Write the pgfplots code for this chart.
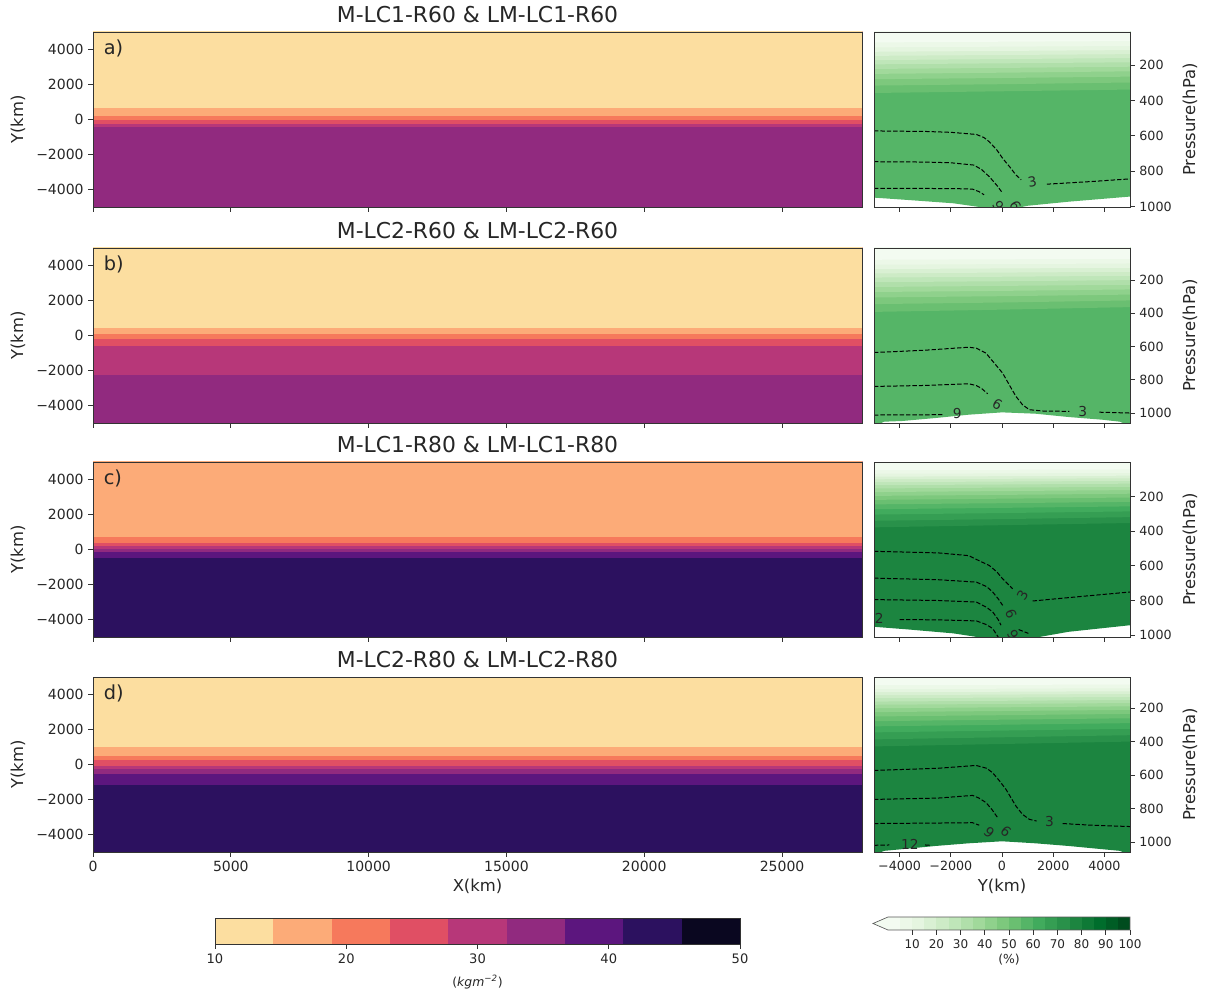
\documentclass[border=0pt]{standalone}
\usepackage{fontspec}
\setmainfont{DejaVu Sans}
\usepackage{pgfplots}
\pgfplotsset{compat=1.18}
\definecolor{m1}{RGB}{252,222,160}
\definecolor{m2}{RGB}{252,171,120}
\definecolor{m3}{RGB}{246,121,92}
\definecolor{m4}{RGB}{224,79,100}
\definecolor{m5}{RGB}{183,55,121}
\definecolor{m6}{RGB}{145,42,127}
\definecolor{m7}{RGB}{92,22,126}
\definecolor{m8}{RGB}{44,17,95}
\definecolor{m9}{RGB}{10,7,32}
\definecolor{g0}{RGB}{243,251,241}
\definecolor{g1}{RGB}{236,248,232}
\definecolor{g2}{RGB}{229,245,224}
\definecolor{g3}{RGB}{217,240,211}
\definecolor{g4}{RGB}{205,235,198}
\definecolor{g5}{RGB}{191,230,185}
\definecolor{g6}{RGB}{176,223,170}
\definecolor{g7}{RGB}{161,217,155}
\definecolor{g8}{RGB}{143,209,140}
\definecolor{g9}{RGB}{125,200,125}
\definecolor{g10}{RGB}{106,191,113}
\definecolor{g11}{RGB}{85,181,103}
\definecolor{g12}{RGB}{65,171,93}
\definecolor{g13}{RGB}{53,158,83}
\definecolor{g14}{RGB}{41,145,74}
\definecolor{g15}{RGB}{28,133,64}
\definecolor{g16}{RGB}{14,121,54}
\definecolor{g17}{RGB}{0,109,44}
\definecolor{g18}{RGB}{0,93,37}
\definecolor{g19}{RGB}{0,76,30}
\definecolor{txt}{RGB}{38,38,38}
% horizontal band from ylow up to the top (layered)
\newcommand{\hb}[2]{\addplot[fill=#1,draw=none] coordinates {(-300,#2)(28200,#2)(28200,5100)(-300,5100)};}
% green band from top down to a sloped boundary (layered)
\newcommand{\gb}[4]{\addplot[fill=#1,draw=none] coordinates {(-5200,-20)(5200,-20)(5200,#4)(0,#3)(-5200,#2)};}
\newcommand{\cb}[3]{\addplot[fill=#1,draw=none] coordinates {(#2,0)(#3,0)(#3,1)(#2,1)};}
\pgfplotsset{
  base/.style={scale only axis, axis on top, tick align=outside, major tick length=3.5pt,
    scaled ticks=false,
    axis line style={black!80,line width=0.6pt}, tick style={black!80,line width=0.6pt},
    ticklabel style={text=txt}, label style={text=txt}, title style={text=txt}},
  lp/.style={base, width=576.75pt, height=131.25pt, xmin=0, xmax=27900, ymin=-5000, ymax=5000,
    xtick={0,5000,10000,15000,20000,25000}, xticklabels={},
    ytick={-4000,-2000,0,2000,4000}, yticklabels={−4000,−2000,0,2000,4000},
    xtick pos=left, ytick pos=left,
    ticklabel style={font=\fontsize{10.5}{12}\selectfont},
    ylabel={Y(km)}, ylabel style={at={(axis description cs:-0.0975,0.5)},anchor=center,font=\fontsize{12.3}{14}\selectfont},
    xlabel style={at={(axis description cs:0.5,-0.199)},anchor=center,font=\fontsize{12.3}{14}\selectfont},
    title style={at={(axis description cs:0.5,1.097)},anchor=center,yshift=-6pt,font=\fontsize{16.4}{19}\selectfont}},
  rp/.style={base, width=192pt, height=131.25pt, xmin=-5000, xmax=5000, y dir=reverse,
    xtick={-4000,-2000,0,2000,4000}, xticklabels={},
    ytick={200,400,600,800,1000}, yticklabels={200,400,600,800,1000},
    xtick pos=left, ytick pos=right, yticklabel pos=right,
    ticklabel style={font=\fontsize{9.5}{11}\selectfont},
    ylabel={Pressure(hPa)}, ylabel style={at={(axis description cs:1.234,0.5)},anchor=center,font=\fontsize{12.3}{14}\selectfont},
    xlabel style={at={(axis description cs:0.5,-0.199)},anchor=center,font=\fontsize{12.3}{14}\selectfont}},
  cl/.style={black, line width=0.75pt, dash pattern=on 3.3pt off 1.5pt},
}
\tikzset{lab/.style={font=\fontsize{10.3}{12}\selectfont, text=black!85, inner sep=0pt},
  let/.style={anchor=west,font=\fontsize{14.5}{17}\selectfont,text=txt}}
\begin{document}
\begin{tikzpicture}
\useasboundingbox (0,0) rectangle (904.5pt,747.75pt);
% ================= row a
\begin{axis}[lp, at={(69.75pt,723.75pt)}, anchor=north west, title={M-LC1-R60 \& LM-LC1-R60}]
\hb{m6}{-5100}
\hb{m5}{-420}
\hb{m4}{-230}
\hb{m3}{-40}
\hb{m2}{200}
\hb{m1}{660}
\node[let] at (axis description cs:0.008,0.905) {a)};
\end{axis}
\begin{axis}[rp, at={(655.5pt,723.75pt)}, anchor=north west, ymin=13, ymax=1002]
\addplot[fill=g11,draw=none] coordinates {(-5200,-20)(5200,-20)(5200,940)(5000,943)(2600,972)(1000,995)(500,1010)(-500,1010)(-1900,981)(-3700,962)(-5000,949)(-5200,947)};
\gb{g10}{358}{348}{338}
\gb{g9}{316}{308}{298}
\gb{g8}{280}{273}{265}
\gb{g7}{250}{243}{235}
\gb{g6}{222}{216}{209}
\gb{g5}{196}{190}{184}
\gb{g4}{172}{166}{160}
\gb{g3}{148}{143}{138}
\gb{g2}{125}{120}{115}
\gb{g1}{100}{96}{92}
\gb{g0}{72}{68}{64}
\addplot[cl] coordinates {(-5000,572)(-3000,575)(-2000,580)(-1000,592)(-700,610)(-500,633)(-200,680)(25,727)(300,775)(545,821)(750,848)};
\addplot[cl] coordinates {(1750,873)(3500,858)(5000,843)};
\addplot[cl] coordinates {(-5000,746)(-3000,748)(-2000,752)(-1100,765)(-800,790)(-500,830)(-200,880)(25,924)};
\addplot[cl] coordinates {(-5000,896)(-3000,897)(-1500,899)(-1150,901)(-900,915)(-700,933)};
\node[lab,rotate=10] at (axis cs:1180,862) {3};
\node[lab,rotate=-60] at (axis cs:520,995) {6};
\node[lab,rotate=-60] at (axis cs:-150,995) {9};
\end{axis}
% ================= row b
\begin{axis}[lp, at={(69.75pt,561.75pt)}, anchor=north west, title={M-LC2-R60 \& LM-LC2-R60}]
\hb{m6}{-5100}
\hb{m5}{-2250}
\hb{m4}{-590}
\hb{m3}{-190}
\hb{m2}{80}
\hb{m1}{420}
\node[let] at (axis description cs:0.008,0.905) {b)};
\end{axis}
\begin{axis}[rp, at={(655.5pt,561.75pt)}, anchor=north west, ymin=7, ymax=1060]
\addplot[fill=g11,draw=none] coordinates {(-5200,-20)(5200,-20)(5200,1070)(4750,1062)(4600,1052)(3900,1040)(2600,1024)(1300,1004)(0,996)(-1300,1010)(-2600,1030)(-3900,1048)(-4600,1052)(-4750,1062)(-5200,1070)};
\gb{g10}{392}{378}{362}
\gb{g9}{345}{335}{322}
\gb{g8}{305}{297}{287}
\gb{g7}{272}{265}{256}
\gb{g6}{242}{235}{228}
\gb{g5}{213}{207}{200}
\gb{g4}{185}{180}{174}
\gb{g3}{160}{155}{150}
\gb{g2}{134}{130}{126}
\gb{g1}{108}{104}{100}
\gb{g0}{78}{75}{72}
\addplot[cl] coordinates {(-5000,636)(-3000,622)(-1300,604)(-1000,610)(-625,640)(-300,700)(25,760)(300,835)(545,900)(800,950)(1068,980)(1600,988)(2630,990)};
\addplot[cl] coordinates {(3800,995)(5000,1000)};
\addplot[cl] coordinates {(-5000,840)(-3000,834)(-1300,824)(-1000,835)(-800,852)(-560,884)};
\addplot[cl] coordinates {(-5000,1012)(-2300,1010)};
\node[lab] at (axis cs:3150,990) {3};
\node[lab,rotate=-30] at (axis cs:-180,945) {6};
\node[lab] at (axis cs:-1750,1005) {9};
\end{axis}
% ================= row c
\begin{axis}[lp, at={(69.75pt,401.25pt)}, anchor=north west, title={M-LC1-R80 \& LM-LC1-R80}]
\hb{m8}{-5100}
\hb{m7}{-480}
\hb{m6}{-170}
\hb{m5}{20}
\hb{m4}{200}
\hb{m3}{380}
\hb{m2}{700}
\node[let] at (axis description cs:0.008,0.905) {c)};
\end{axis}
\begin{axis}[rp, at={(655.5pt,401.25pt)}, anchor=north west, ymin=0, ymax=1011]
\addplot[fill=g15,draw=none] coordinates {(-5200,-20)(5200,-20)(5200,940)(5000,943)(2600,981)(1300,1015)(-800,1015)(-1900,990)(-3700,967)(-5000,952)(-5200,950)};
\gb{g14}{378}{365}{352}
\gb{g13}{340}{330}{318}
\gb{g12}{304}{295}{285}
\gb{g11}{273}{265}{256}
\gb{g10}{245}{238}{230}
\gb{g9}{219}{212}{205}
\gb{g8}{196}{190}{183}
\gb{g7}{174}{168}{162}
\gb{g6}{153}{148}{143}
\gb{g5}{134}{130}{125}
\gb{g4}{117}{113}{109}
\gb{g3}{100}{97}{94}
\gb{g2}{85}{82}{79}
\gb{g1}{68}{66}{63}
\gb{g0}{47}{45}{43}
\addplot[cl] coordinates {(-5000,516)(-2500,525)(-1300,541)(-900,570)(-496,598)(-200,635)(25,675)(415,732)};
\addplot[cl] coordinates {(1195,803)(3000,778)(5000,751)};
\addplot[cl] coordinates {(-5000,671)(-2500,680)(-1000,694)(-600,720)(-365,751)(-150,790)(25,828)};
\addplot[cl] coordinates {(-5000,795)(-2500,800)(-1000,809)(-600,840)(-365,866)(-150,910)(-40,943)};
\addplot[cl] coordinates {(-4000,910)(-2500,912)(-1000,918)(-600,940)(-365,962)(-150,1011)};
\addplot[cl] coordinates {(650,968)(1030,990)};
\node[lab,rotate=60] at (axis cs:800,770) {3};
\node[lab,rotate=-70] at (axis cs:350,880) {6};
\node[lab,rotate=-60] at (axis cs:420,1000) {9};
\node[lab] at (axis cs:-4800,905) {2};
\end{axis}
% ================= row d
\begin{axis}[lp, at={(69.75pt,240pt)}, anchor=north west, title={M-LC2-R80 \& LM-LC2-R80},
  xticklabels={0,5000,10000,15000,20000,25000}, xlabel={X(km)}]
\hb{m8}{-5100}
\hb{m7}{-1160}
\hb{m6}{-530}
\hb{m5}{-250}
\hb{m4}{-60}
\hb{m3}{230}
\hb{m2}{480}
\hb{m1}{1000}
\node[let] at (axis description cs:0.008,0.905) {d)};
\end{axis}
\begin{axis}[rp, at={(655.5pt,240pt)}, anchor=north west, ymin=15, ymax=1060,
  xticklabels={−4000,−2000,0,2000,4000}, xlabel={Y(km)}]
\addplot[fill=g15,draw=none] coordinates {(-5200,-20)(5200,-20)(5200,1070)(4750,1062)(4600,1053)(3900,1043)(2600,1024)(1300,1008)(0,996)(-1300,1008)(-2600,1024)(-3900,1043)(-4600,1053)(-4750,1062)(-5200,1070)};
\gb{g14}{430}{415}{400}
\gb{g13}{388}{375}{362}
\gb{g12}{346}{335}{324}
\gb{g11}{310}{300}{290}
\gb{g10}{279}{270}{261}
\gb{g9}{251}{243}{235}
\gb{g8}{225}{218}{211}
\gb{g7}{202}{196}{190}
\gb{g6}{181}{176}{170}
\gb{g5}{162}{157}{152}
\gb{g4}{142}{138}{134}
\gb{g3}{124}{120}{116}
\gb{g2}{106}{103}{100}
\gb{g1}{88}{85}{82}
\gb{g0}{64}{62}{60}
\addplot[cl] coordinates {(-5000,573)(-2500,560)(-1016,543)(-600,560)(-365,587)(-100,635)(155,686)(545,786)(800,835)(1068,865)(1350,875)};
\addplot[cl] coordinates {(2370,890)(3500,900)(5000,908)};
\addplot[cl] coordinates {(-5000,746)(-2500,738)(-1150,722)(-900,738)(-625,765)(-400,805)(-170,855)};
\addplot[cl] coordinates {(-5000,890)(-2500,887)(-1150,885)(-890,900)};
\addplot[cl] coordinates {(-5000,1020)(-4400,1018)};
\addplot[cl] coordinates {(-3000,1018)(-2800,1020)};
\node[lab] at (axis cs:1850,880) {3};
\node[lab,rotate=-40] at (axis cs:-500,945) {9};
\node[lab,rotate=-40] at (axis cs:150,940) {6};
\node[lab] at (axis cs:-3600,1013) {12};
\end{axis}
% ================= colorbar 1
\begin{axis}[base, at={(161.25pt,59.25pt)}, anchor=north west, width=393.75pt, height=19.5pt,
  xmin=10, xmax=50, ymin=0, ymax=1, ytick=\empty, xtick={10,20,30,40,50}, xticklabels={10,20,30,40,50},
  xtick pos=left, ticklabel style={font=\fontsize{9.8}{11}\selectfont},
  xlabel={(\textit{kgm}\textsuperscript{\textit{−2}})}, xlabel style={at={(axis description cs:0.5,-1.46)},anchor=center,font=\fontsize{9.3}{11}\selectfont}]
\cb{m1}{10}{50}
\cb{m2}{14.444}{50}
\cb{m3}{18.889}{50}
\cb{m4}{23.333}{50}
\cb{m5}{27.778}{50}
\cb{m6}{32.222}{50}
\cb{m7}{36.667}{50}
\cb{m8}{41.111}{50}
\cb{m9}{45.556}{50}
\end{axis}
% ================= colorbar 2
\begin{axis}[base, clip=false, at={(666pt,60pt)}, anchor=north west, width=181.5pt, height=9.75pt,
  xmin=0, xmax=100, ymin=0, ymax=1, ytick=\empty, axis line style={draw=none},
  xtick={10,20,30,40,50,60,70,80,90,100}, xticklabels={10,20,30,40,50,60,70,80,90,100},
  xtick pos=left, ticklabel style={font=\fontsize{9}{10}\selectfont},
  xlabel={(\%)}, xlabel style={at={(axis description cs:0.5,-2.31)},anchor=center,font=\fontsize{9.3}{11}\selectfont}]
\addplot[fill=g0,draw=none] coordinates {(0.2,0)(0.2,1)(-6.2,0.5)};
\cb{g0}{0}{100}
\cb{g1}{5}{100}
\cb{g2}{10}{100}
\cb{g3}{15}{100}
\cb{g4}{20}{100}
\cb{g5}{25}{100}
\cb{g6}{30}{100}
\cb{g7}{35}{100}
\cb{g8}{40}{100}
\cb{g9}{45}{100}
\cb{g10}{50}{100}
\cb{g11}{55}{100}
\cb{g12}{60}{100}
\cb{g13}{65}{100}
\cb{g14}{70}{100}
\cb{g15}{75}{100}
\cb{g16}{80}{100}
\cb{g17}{85}{100}
\cb{g18}{90}{100}
\cb{g19}{95}{100}
\addplot[draw=black!65,line width=0.5pt] coordinates {(0,0)(100,0)(100,1)(0,1)(-6.2,0.5)(0,0)(100,0)};
\end{axis}
\end{tikzpicture}
\end{document}
